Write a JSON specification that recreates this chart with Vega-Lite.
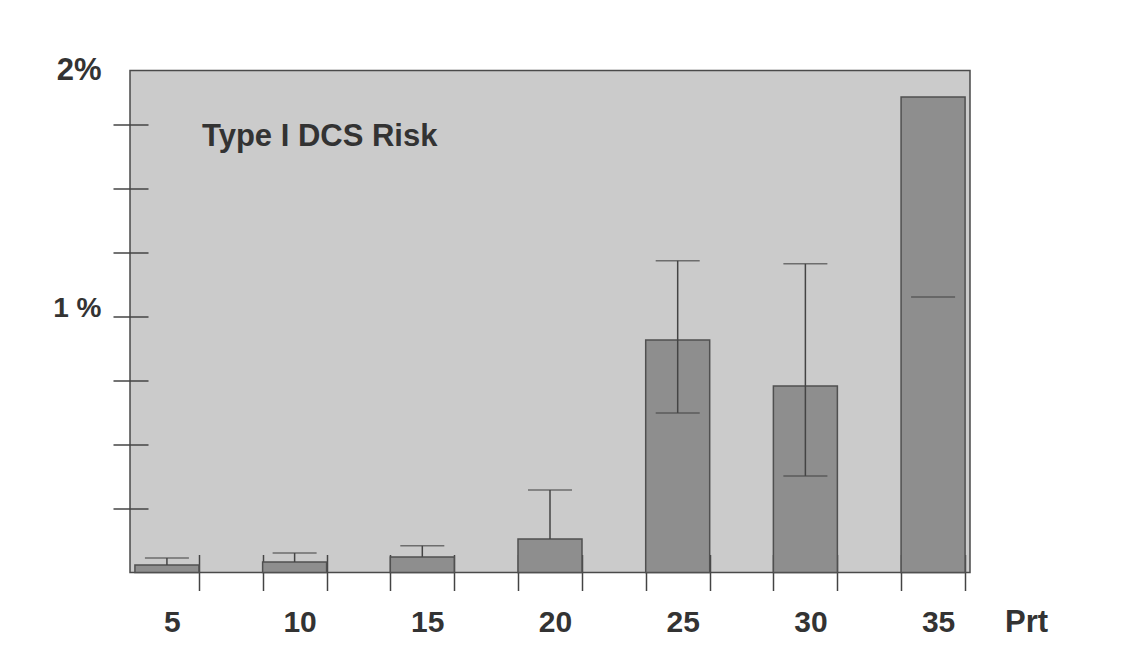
{
  "$schema": "https://vega.github.io/schema/vega-lite/v6.json",
  "width": 840,
  "height": 502,
  "autosize": {"type": "none"},
  "padding": {"left": 130, "top": 70.5, "right": 159, "bottom": 76.5},
  "background": "white",
  "title": {
    "text": "Type I DCS Risk",
    "anchor": "start",
    "frame": "group",
    "orient": "top",
    "offset": 0,
    "dx": 72,
    "dy": 122,
    "baseline": "alphabetic",
    "font": "Liberation Sans",
    "fontSize": 31,
    "fontWeight": "bold",
    "color": "#333333"
  },
  "config": {
    "view": {"fill": "#cbcbcb", "stroke": "#4a4a4a", "strokeWidth": 1.5},
    "font": "Liberation Sans"
  },
  "data": {
    "values": [
      {"prt": 5, "risk": 0.029, "hi": 0.057, "lo": null},
      {"prt": 10, "risk": 0.041, "hi": 0.076, "lo": null},
      {"prt": 15, "risk": 0.061, "hi": 0.104, "lo": null},
      {"prt": 20, "risk": 0.131, "hi": 0.322, "lo": null},
      {"prt": 25, "risk": 0.908, "hi": 1.217, "lo": 0.623},
      {"prt": 30, "risk": 0.728, "hi": 1.205, "lo": 0.377},
      {"prt": 35, "risk": 1.857, "hi": null, "lo": 1.076}
    ]
  },
  "layer": [
    {
      "mark": {"type": "bar", "width": 64, "fill": "#8e8e8e", "stroke": "#505050", "strokeWidth": 1.5},
      "encoding": {
        "x": {
          "field": "prt",
          "type": "quantitative",
          "scale": {"domain": [3.75, 36.25], "nice": false, "zero": false},
          "axis": {
            "values": [5, 6.25, 8.75, 10, 11.25, 13.75, 15, 16.25, 18.75, 20, 21.25, 23.75, 25, 26.25, 28.75, 30, 31.25, 33.75, 35, 36.25],
            "labelExpr": "datum.value % 5 == 0 ? datum.label : ''",
            "tickOpacity": {"condition": {"test": "datum.value % 5 == 0", "value": 0}, "value": 1},
            "offset": -18,
            "tickSize": 36,
            "tickColor": "#444444",
            "tickWidth": 1.5,
            "domain": false,
            "grid": false,
            "labelFontSize": 30,
            "labelFontWeight": "bold",
            "labelColor": "#333333",
            "labelBaseline": "alphabetic",
            "labelPadding": 41,
            "labelOffset": 5,
            "labelOverlap": false,
            "labelFlush": false,
            "title": "Prt",
            "titleFontSize": 31,
            "titleFontWeight": "bold",
            "titleColor": "#333333",
            "titleAlign": "center",
            "titleBaseline": "alphabetic",
            "titleX": 896,
            "titleY": 77,
            "titleAngle": 0
          }
        },
        "y": {
          "field": "risk",
          "type": "quantitative",
          "scale": {"domain": [0, 1.96], "nice": false},
          "axis": {
            "values": [0.25, 0.5, 0.75, 1, 1.25, 1.5, 1.75, 1.96],
            "labelExpr": "datum.value == 1 ? '1 %' : (datum.value > 1.9 ? '2%' : '')",
            "tickOpacity": {"condition": {"test": "datum.value > 1.9", "value": 0}, "value": 1},
            "labelFontSize": {"condition": {"test": "datum.value > 1.9", "value": 31}, "value": 28},
            "labelOffset": {"condition": {"test": "datum.value > 1.9", "value": 0}, "value": -8},
            "offset": -18,
            "tickSize": 35,
            "tickColor": "#444444",
            "tickWidth": 1.5,
            "domain": false,
            "grid": false,
            "labelFontWeight": "bold",
            "labelColor": "#333333",
            "labelBaseline": "middle",
            "labelPadding": 12,
            "labelOverlap": false,
            "title": null
          }
        }
      }
    },
    {
      "transform": [{"filter": {"field": "hi", "valid": true}}],
      "mark": {"type": "rule", "color": "#444444", "strokeWidth": 1.5},
      "encoding": {
        "x": {"field": "prt", "type": "quantitative"},
        "y": {"field": "risk", "type": "quantitative"},
        "y2": {"field": "hi"}
      }
    },
    {
      "transform": [{"filter": {"field": "hi", "valid": true}}, {"filter": {"field": "lo", "valid": true}}],
      "mark": {"type": "rule", "color": "#444444", "strokeWidth": 1.5},
      "encoding": {
        "x": {"field": "prt", "type": "quantitative"},
        "y": {"field": "lo", "type": "quantitative"},
        "y2": {"field": "risk"}
      }
    },
    {
      "transform": [{"filter": {"field": "hi", "valid": true}}],
      "mark": {"type": "tick", "orient": "horizontal", "size": 44, "thickness": 1.5, "color": "#444444"},
      "encoding": {
        "x": {"field": "prt", "type": "quantitative"},
        "y": {"field": "hi", "type": "quantitative"}
      }
    },
    {
      "transform": [{"filter": {"field": "lo", "valid": true}}],
      "mark": {"type": "tick", "orient": "horizontal", "size": 44, "thickness": 1.5, "color": "#444444"},
      "encoding": {
        "x": {"field": "prt", "type": "quantitative"},
        "y": {"field": "lo", "type": "quantitative"}
      }
    }
  ]
}
